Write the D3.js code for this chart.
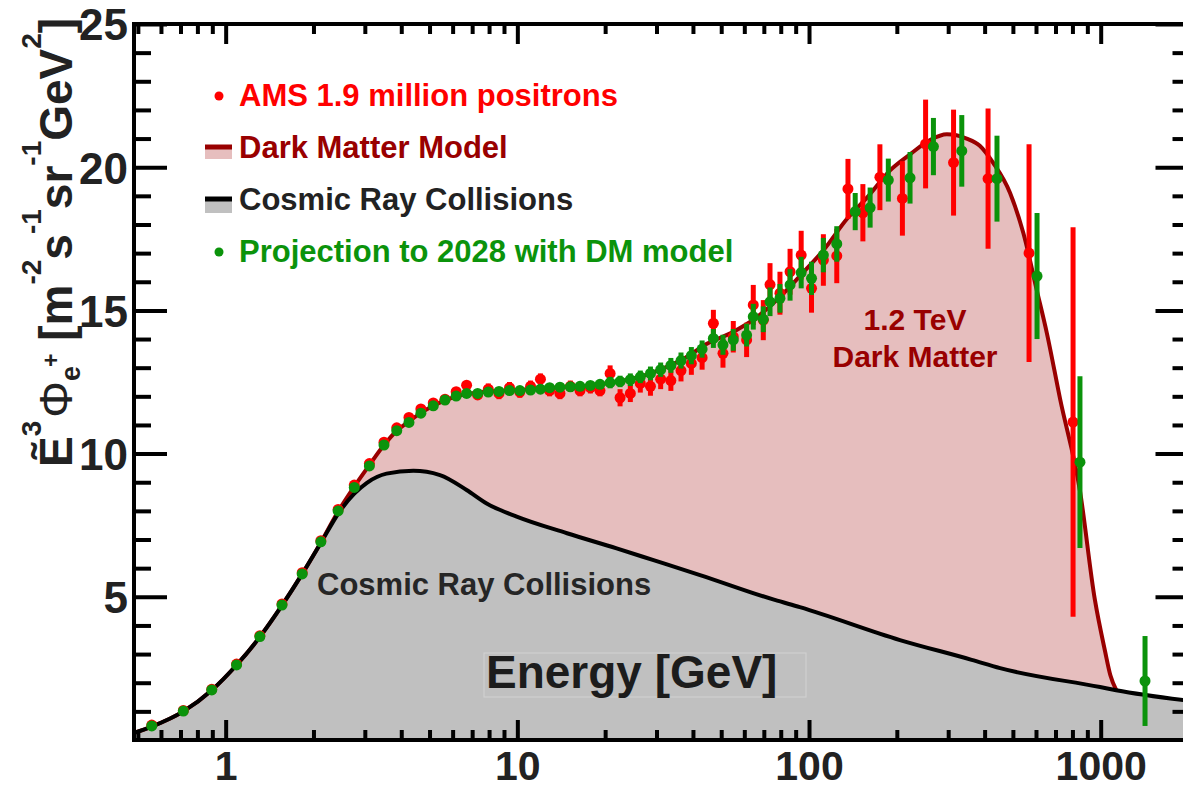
<!DOCTYPE html>
<meta charset="utf-8">
<title>AMS positron flux and Dark Matter model</title>
<style>
body { margin: 0; background: #fff; }
svg { display: block; font-family: "Liberation Sans", Arial, Helvetica, sans-serif; }
.axis path { display: none; }
.axis line { stroke: #000; stroke-width: 4; }
.axis text { font-weight: bold; fill: #222; }
</style>
<svg width="1183" height="790"></svg>
<script src="https://cdn.jsdelivr.net/npm/d3@7"></script>
<script>

// AMS measured points (energy in GeV, E^3 flux, error)
var amsEnergy = [0.558, 0.716, 0.896, 1.09, 1.31, 1.56, 1.83, 2.12, 2.43, 2.76,
  3.11, 3.49, 3.86, 4.25, 4.67, 5.15, 5.65, 6.17, 6.70, 7.31,
  7.95, 8.65, 9.40, 10.2, 11.1, 12.0, 12.9, 14.0, 15.2, 16.4,
  17.8, 19.2, 20.8, 22.5, 24.4, 26.4, 28.6, 31.0, 33.6, 36.4,
  39.5, 43.0, 47.0, 50.7, 55.0, 61.1, 64.4, 69.7, 73.5, 79.5,
  86.1, 94.0, 102, 112, 124.5, 136, 153, 175, 209, 251,
  313, 411, 568, 804];
var amsValue = [0.52, 1.03, 1.77, 2.65, 3.64, 4.75, 5.84, 6.96, 8.05, 8.90,
  9.65, 10.40, 10.90, 11.26, 11.56, 11.77, 11.90, 12.16, 12.39, 12.05,
  12.25, 12.10, 12.30, 12.15, 12.35, 12.60, 12.20, 12.10, 12.35, 12.20,
  12.30, 12.20, 12.80, 11.95, 12.10, 12.45, 12.35, 12.60, 12.55, 12.90,
  13.15, 13.35, 14.55, 13.50, 14.08, 13.97, 15.19, 14.66, 15.90, 15.60,
  16.35, 16.93, 15.77, 16.76, 16.90, 19.24, 18.41, 19.65, 18.91, 20.81,
  20.16, 19.60, 17.00, 11.10];
var amsError = [0.04, 0.04, 0.04, 0.04, 0.04, 0.04, 0.04, 0.04, 0.04, 0.04,
  0.06, 0.06, 0.06, 0.06, 0.06, 0.06, 0.06, 0.06, 0.06, 0.06,
  0.2, 0.2, 0.2, 0.2, 0.2, 0.2, 0.2, 0.2, 0.2, 0.2,
  0.2, 0.2, 0.28, 0.3, 0.3, 0.32, 0.33, 0.35, 0.36, 0.38,
  0.4, 0.42, 0.47, 0.5, 0.55, 0.6, 0.7, 0.7, 0.75, 0.75,
  0.8, 0.85, 0.85, 0.9, 0.95, 1.05, 1.0, 1.15, 1.3, 1.55,
  1.85, 2.45, 3.8, 6.8];

// projected points to 2028
var projEnergy = [0.558, 0.716, 0.896, 1.09, 1.31, 1.56, 1.83, 2.12, 2.43, 2.76,
  3.11, 3.49, 3.86, 4.25, 4.67, 5.15, 5.65, 6.17, 6.70, 7.31,
  7.95, 8.65, 9.40, 10.2, 11.1, 12.0, 12.9, 14.0, 15.2, 16.4,
  17.8, 19.2, 20.8, 22.5, 24.4, 26.4, 28.6, 31.0, 33.6, 36.4,
  39.5, 43.0, 47.0, 50.7, 55.0, 61.1, 64.4, 69.7, 73.5, 79.5,
  86.1, 94.0, 102, 112, 124.5, 144, 162, 187, 222, 267,
  334, 441, 605, 849, 1419];
var projValue = [0.49, 1.01, 1.75, 2.62, 3.61, 4.71, 5.80, 6.92, 8.00, 8.82,
  9.57, 10.30, 10.80, 11.09, 11.41, 11.67, 11.87, 12.01, 12.10, 12.10,
  12.15, 12.17, 12.20, 12.20, 12.22, 12.25, 12.30, 12.32, 12.33, 12.35,
  12.38, 12.42, 12.48, 12.52, 12.58, 12.68, 12.80, 12.93, 13.08, 13.25,
  13.42, 13.65, 14.02, 13.80, 13.97, 14.14, 14.78, 14.69, 15.30, 15.42,
  15.89, 16.32, 16.12, 16.93, 17.32, 18.45, 18.59, 19.55, 19.63, 20.72,
  20.57, 19.60, 16.20, 9.70, 2.06];
var projError = [0.03, 0.03, 0.03, 0.03, 0.03, 0.03, 0.03, 0.03, 0.03, 0.03,
  0.03, 0.03, 0.03, 0.03, 0.03, 0.03, 0.03, 0.03, 0.03, 0.03,
  0.15, 0.15, 0.15, 0.15, 0.15, 0.15, 0.15, 0.15, 0.15, 0.15,
  0.15, 0.15, 0.2, 0.2, 0.22, 0.22, 0.24, 0.25, 0.26, 0.28,
  0.3, 0.3, 0.33, 0.35, 0.38, 0.4, 0.45, 0.45, 0.5, 0.5,
  0.55, 0.55, 0.58, 0.6, 0.62, 0.65, 0.7, 0.75, 0.9, 1.0,
  1.25, 1.5, 2.2, 3.0, 1.57];

// dark matter model curve (collisions + 1.2 TeV dark matter)
var dmEnergy = [0.485, 0.558, 0.716, 0.896, 1.09, 1.31, 1.56, 1.83, 2.12, 2.43,
  2.76, 3.11, 3.49, 3.86, 4.25, 4.67, 5.15, 5.65, 6.17, 6.7,
  8, 10, 13, 17, 20, 25, 30, 37, 45, 55,
  65, 80, 95, 112, 135, 160, 190, 222, 260, 297,
  347, 385, 428, 489, 543, 604, 654, 726, 849, 955,
  1035, 1080, 1130];
var dmValue = [0.25, 0.47, 1.0, 1.74, 2.62, 3.6, 4.7, 5.8, 6.9, 7.98,
  8.85, 9.6, 10.3, 10.8, 11.12, 11.42, 11.67, 11.86, 12.0, 12.08,
  12.17, 12.22, 12.3, 12.36, 12.45, 12.62, 12.88, 13.3, 13.85, 14.25,
  14.7, 15.5, 16.3, 17.1, 18.2, 19.0, 19.9, 20.45, 20.95, 21.15,
  21.0, 20.75, 20.15, 19.1, 17.7, 15.7, 14.2, 11.9, 8.7, 4.9,
  3.1, 2.25, 1.75];

// cosmic ray collisions curve
var crEnergy = [0.485, 0.558, 0.716, 0.896, 1.09, 1.31, 1.56, 1.83, 2.12, 2.43,
  2.76, 3.05, 3.56, 4.4, 5.43, 6.7, 7.85, 9.95, 14.8, 21.9,
  29.3, 42.3, 76.3, 93, 205, 361, 452, 995, 1130, 2000];
var crValue = [0.25, 0.47, 1.0, 1.74, 2.62, 3.6, 4.7, 5.8, 6.88, 7.9,
  8.6, 8.98, 9.3, 9.4, 9.25, 8.73, 8.26, 7.8, 7.22, 6.69,
  6.28, 5.76, 4.89, 4.64, 3.49, 2.8, 2.51, 1.85, 1.74, 1.37];

// axis ticks
var xMajorTicks = [1, 10, 100, 1000];
var xMinorTicks = [0.5, 0.6, 0.7, 0.8, 0.9, 2, 3, 4, 5, 6, 7, 8, 9,
  20, 30, 40, 50, 60, 70, 80, 90, 200, 300, 400, 500, 600, 700, 800, 900];
var yMajorTicks = [5, 10, 15, 20, 25];
var yMinorTicks = [1, 2, 3, 4, 6, 7, 8, 9, 11, 12, 13, 14, 16, 17, 18, 19, 21, 22, 23, 24];

var pink = "#e6bebe", grey = "#c0c0c0", darkRed = "#990000",
    red = "#ff0000", green = "#0b930b";

var svg = d3.select("svg");

var x = d3.scaleLog().domain([0.485, 2000]).range([134, 1188.5]);
var y = d3.scaleLinear().domain([0, 25]).range([740, 24]);

function zip(es, vs, errs) {
  return es.map(function(e, i) { return {e: e, v: vs[i], err: errs ? errs[i] : 0}; });
}

var dmData = zip(dmEnergy, dmValue),
    crData = zip(crEnergy, crValue),
    amsData = zip(amsEnergy, amsValue, amsError),
    projData = zip(projEnergy, projValue, projError);

svg.append("clipPath").attr("id", "plot")
  .append("rect").attr("x", 134).attr("y", 24).attr("width", 1054.5).attr("height", 716);

var area = d3.area()
    .x(function(d) { return x(d.e); })
    .y0(y(0))
    .y1(function(d) { return y(d.v); })
    .curve(d3.curveMonotoneX);
var line = d3.line()
    .x(function(d) { return x(d.e); })
    .y(function(d) { return y(d.v); })
    .curve(d3.curveMonotoneX);

var plot = svg.append("g").attr("clip-path", "url(#plot)");

//filled areas: dark matter under, collisions on top
plot.append("path").datum(dmData).attr("d", area).attr("fill", pink);
plot.append("path").datum(crData).attr("d", area).attr("fill", grey);

//box behind the energy label
plot.append("rect")
  .attr("x", 484).attr("y", 653).attr("width", 322).attr("height", 44)
  .attr("fill", "none").attr("stroke", "#d2d2d2").attr("stroke-width", 1);

plot.append("path").datum(dmData).attr("d", line)
  .attr("fill", "none").attr("stroke", darkRed).attr("stroke-width", 4);
plot.append("path").datum(crData).attr("d", line)
  .attr("fill", "none").attr("stroke", "#000").attr("stroke-width", 4);

//points with error bars
function drawPoints(data, color) {
  var g = plot.append("g");
  g.selectAll("line").data(data).enter().append("line")
    .attr("x1", function(d) { return x(d.e); })
    .attr("x2", function(d) { return x(d.e); })
    .attr("y1", function(d) { return y(d.v - d.err); })
    .attr("y2", function(d) { return y(d.v + d.err); })
    .attr("stroke", color).attr("stroke-width", 5);
  g.selectAll("circle").data(data).enter().append("circle")
    .attr("cx", function(d) { return x(d.e); })
    .attr("cy", function(d) { return y(d.v); })
    .attr("r", 5.5)
    .attr("fill", color);
}
drawPoints(amsData, red);
drawPoints(projData, green);

//axes: majors with labels, minors without
svg.append("g").attr("class", "axis")
  .attr("transform", "translate(0,740)")
  .call(d3.axisBottom(x).tickValues(xMajorTicks).tickSize(-20).tickPadding(11)
    .tickFormat(d3.format("d")))
  .selectAll("text").attr("font-size", 41);
svg.append("g").attr("class", "axis")
  .attr("transform", "translate(0,740)")
  .call(d3.axisBottom(x).tickValues(xMinorTicks).tickSize(-10).tickFormat(""));
svg.append("g").attr("class", "axis")
  .attr("transform", "translate(0,24)")
  .call(d3.axisTop(x).tickValues(xMajorTicks).tickSize(-20).tickFormat(""));
svg.append("g").attr("class", "axis")
  .attr("transform", "translate(0,24)")
  .call(d3.axisTop(x).tickValues(xMinorTicks).tickSize(-10).tickFormat(""));

svg.append("g").attr("class", "axis")
  .attr("transform", "translate(134,0)")
  .call(d3.axisLeft(y).tickValues(yMajorTicks).tickSize(-33).tickPadding(6))
  .selectAll("text").attr("font-size", 44).attr("dy", "0.36em");
svg.append("g").attr("class", "axis")
  .attr("transform", "translate(134,0)")
  .call(d3.axisLeft(y).tickValues(yMinorTicks).tickSize(-17).tickFormat(""));
svg.append("g").attr("class", "axis")
  .attr("transform", "translate(1188.5,0)")
  .call(d3.axisRight(y).tickValues(yMajorTicks).tickSize(-33).tickFormat(""));
svg.append("g").attr("class", "axis")
  .attr("transform", "translate(1188.5,0)")
  .call(d3.axisRight(y).tickValues(yMinorTicks).tickSize(-16).tickFormat(""));

//frame
svg.append("rect")
  .attr("x", 134).attr("y", 24).attr("width", 1054.5).attr("height", 716)
  .attr("fill", "none").attr("stroke", "#000").attr("stroke-width", 4);

//axis titles
svg.append("text")
  .attr("x", 486).attr("y", 688)
  .attr("font-size", 46).attr("font-weight", "bold").attr("fill", "#1c1c1c")
  .text("Energy [GeV]");

var title = svg.append("text")
  .attr("transform", "translate(72,467) rotate(-90)")
  .attr("font-size", 46).attr("font-weight", "bold").attr("fill", "#222");
title.append("tspan").text("Ẽ");
title.append("tspan").attr("font-size", 28).attr("dy", -31).text("3");
title.append("tspan").attr("dy", 31).attr("dx", 3).attr("font-weight", "normal").text("Φ");
title.append("tspan").attr("font-size", 27).attr("dy", 8).text("e");
title.append("tspan").attr("font-size", 23).attr("dy", -21).attr("dx", -1).text("+");
title.append("tspan").attr("dy", 13).text(" [m");
title.append("tspan").attr("font-size", 28).attr("dy", -31).text("-2");
title.append("tspan").attr("dy", 31).text("s");
title.append("tspan").attr("font-size", 28).attr("dy", -31).text("-1");
title.append("tspan").attr("dy", 31).text("sr");
title.append("tspan").attr("font-size", 28).attr("dy", -31).text("-1");
title.append("tspan").attr("dy", 31).text("GeV");
title.append("tspan").attr("font-size", 28).attr("dy", -31).text("2");
title.append("tspan").attr("dy", 31).text("]");

//annotations
svg.append("text")
  .attr("x", 317).attr("y", 595)
  .attr("font-size", 31).attr("font-weight", "bold").attr("fill", "#262626")
  .text("Cosmic Ray Collisions");
svg.append("text")
  .attr("x", 915).attr("y", 330).attr("text-anchor", "middle")
  .attr("font-size", 30).attr("font-weight", "bold").attr("fill", darkRed)
  .text("1.2 TeV");
svg.append("text")
  .attr("x", 915).attr("y", 367).attr("text-anchor", "middle")
  .attr("font-size", 30).attr("font-weight", "bold").attr("fill", darkRed)
  .text("Dark Matter");

//legend
var legend = svg.append("g").attr("font-size", 31).attr("font-weight", "bold");
legend.append("circle").attr("cx", 219).attr("cy", 96).attr("r", 4.5).attr("fill", red);
legend.append("text").attr("x", 239).attr("y", 106).attr("fill", red)
  .text("AMS 1.9 million positrons");

legend.append("rect").attr("x", 205).attr("y", 147).attr("width", 27).attr("height", 12).attr("fill", pink);
legend.append("line").attr("x1", 205).attr("x2", 232).attr("y1", 147).attr("y2", 147)
  .attr("stroke", darkRed).attr("stroke-width", 5);
legend.append("text").attr("x", 239).attr("y", 158).attr("fill", darkRed)
  .text("Dark Matter Model");

legend.append("rect").attr("x", 205).attr("y", 199).attr("width", 27).attr("height", 14).attr("fill", grey);
legend.append("line").attr("x1", 205).attr("x2", 232).attr("y1", 199).attr("y2", 199)
  .attr("stroke", "#000").attr("stroke-width", 5);
legend.append("text").attr("x", 239).attr("y", 210).attr("fill", "#222")
  .text("Cosmic Ray Collisions");

legend.append("circle").attr("cx", 219).attr("cy", 252).attr("r", 4.5).attr("fill", green);
legend.append("text").attr("x", 239).attr("y", 262).attr("fill", green)
  .text("Projection to 2028 with DM model");

</script>
